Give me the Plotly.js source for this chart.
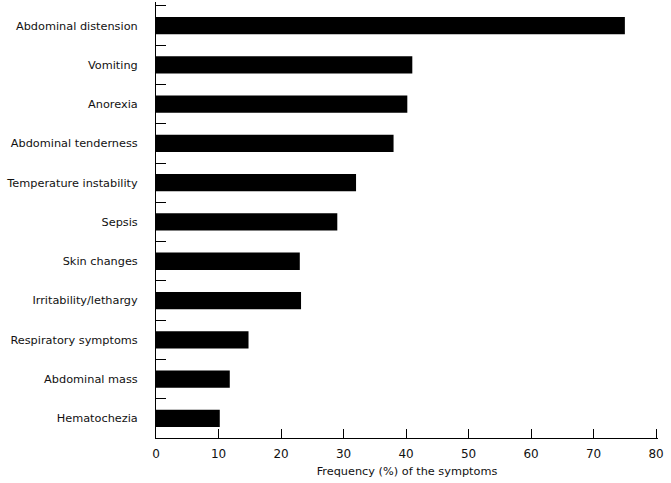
<!DOCTYPE html>
<html>
<head>
<meta charset="utf-8">
<script src="https://cdn.plot.ly/plotly-3.0.1.min.js"></script>
<style>
	body { margin: 0; background: #fff; }
	#chart { width: 671px; height: 483px; }
</style>
</head>
<body>
<div id="chart"></div>
<script>
let symptoms = [
	'Abdominal distension',
	'Vomiting',
	'Anorexia',
	'Abdominal tenderness',
	'Temperature instability',
	'Sepsis',
	'Skin changes',
	'Irritability/lethargy',
	'Respiratory symptoms',
	'Abdominal mass',
	'Hematochezia'
];
let frequency = [75, 41, 40.2, 38, 32, 29, 23, 23.2, 14.8, 11.8, 10.2];
let xTicks = [0, 10, 20, 30, 40, 50, 60, 70, 80];

function createGraph() {
	let bars = {
		x: frequency,
		y: symptoms,
		type: 'bar',
		orientation: 'h',
		width: 0.44,
		marker: { color: '#000000' },
		hoverinfo: 'x+y'
	};

	let layout = {
		width: 671,
		height: 483,
		margin: { l: 156, r: 13, t: 2, b: 45 },
		paper_bgcolor: '#ffffff',
		plot_bgcolor: '#ffffff',
		font: { family: 'DejaVu Sans, Verdana, sans-serif', size: 11.3, color: '#111111' },
		showlegend: false,
		xaxis: {
			range: [0, 80.3],
			tickvals: xTicks,
			ticktext: xTicks.map(String),
			ticks: 'inside',
			ticklen: 9,
			tickcolor: '#000',
			tickwidth: 1,
			showline: true,
			linecolor: '#000',
			linewidth: 1,
			showgrid: false,
			zeroline: false,
			ticklabelstandoff: 5,
			tickfont: { size: 12 },
			title: { text: 'Frequency (%) of the symptoms', font: { size: 11.3 }, standoff: 6 }
		},
		yaxis: {
			type: 'category',
			range: [10.5, -0.6],
			tickson: 'boundaries',
			ticks: 'inside',
			ticklen: 10,
			tickcolor: '#000',
			tickwidth: 1,
			showline: true,
			linecolor: '#000',
			linewidth: 1,
			showgrid: false,
			zeroline: false,
			ticklabelstandoff: 15
		}
	};

	Plotly.newPlot('chart', [bars], layout, { displayModeBar: false, staticPlot: true });
}

createGraph();
</script>
</body>
</html>
